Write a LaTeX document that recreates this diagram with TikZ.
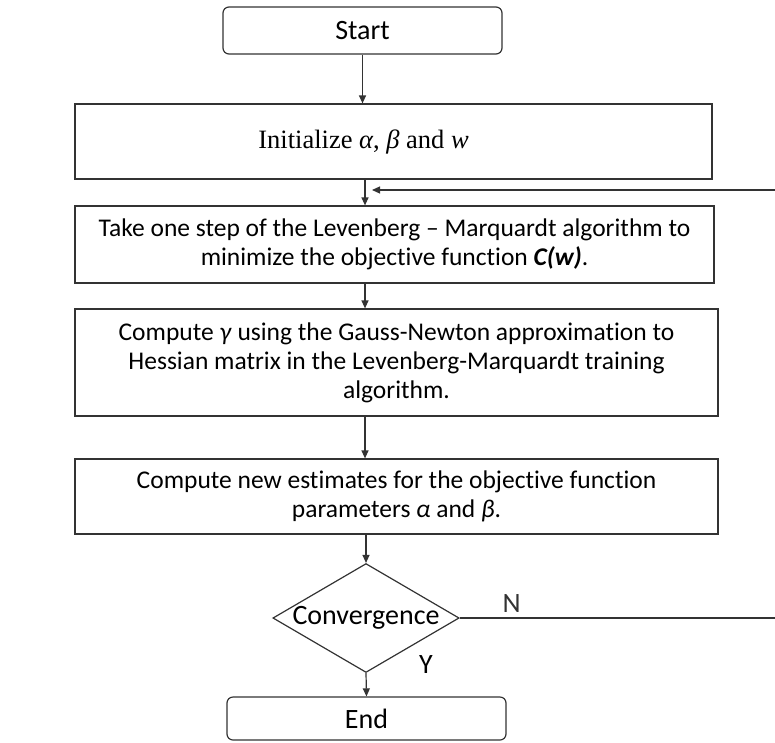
\documentclass[tikz,border=0pt]{standalone}
\usepackage{fontspec}
\setmainfont{Carlito}[Ligatures={NoCommon,TeX}]
\newfontfamily\serifface{Liberation Serif}
\usepackage{xcolor}
\definecolor{Ink}{HTML}{333333}
\usetikzlibrary{arrows.meta,positioning,shapes.geometric}

\begin{document}
\begin{tikzpicture}[
  x=1pt, y=-1pt,
  font=\fontsize{25.5}{29}\selectfont,
  tag/.style={font=\fontsize{28}{32}\selectfont},
  box/.style={draw=Ink, line width=1.2pt, align=center, inner sep=4pt},
  term/.style={box, tag, rounded corners=6pt, minimum width=279pt},
  decision/.style={diamond, aspect=1.71, draw=Ink, line width=1.2pt, tag,
                   inner sep=0pt, minimum width=183pt, minimum height=107pt},
  arr/.style={-{Triangle[length=8pt,width=7pt]}, line width=1.2pt, Ink},
  line/.style={line width=1.2pt, Ink}
]
  \useasboundingbox (0,0) rectangle (775,742);
  % main column of the flow
  \coordinate (axis) at (365,0);

  \node[term, minimum height=47pt] (start) at (362.5,30.5) {Start};
  \node[box, minimum width=637pt, minimum height=75pt,
        label={[xshift=-30pt, font=\serifface\fontsize{26.5}{30}\selectfont]center:
          Initialize \textit{α}, \textit{β} and \textit{w}}]
    (init) at (393.5,141.5) {};
  \node[box, minimum width=639pt, minimum height=77pt] (lm) at (394.5,244.5)
    {Take one step of the Levenberg -- Marquardt algorithm to\\
     minimize the objective function \textbf{\textit{C(w)}}.};
  \node[box, minimum width=643pt, minimum height=107pt] (gamma) at (396.5,362.5)
    {Compute \textit{γ} using the Gauss-Newton approximation to\\
     Hessian matrix in the Levenberg-Marquardt training\\
     algorithm.};
  \node[box, minimum width=643pt, minimum height=75pt] (update) at (396.5,496.5)
    {Compute new estimates for the objective function\\
     parameters \textit{α} and \textit{β}.};
  \node[decision] (conv) at (366,618) {Convergence};
  \node[term, minimum height=43pt] (end) at (366.5,718.5) {End};

  % loose ends of the loop back
  \coordinate (back) at (775,190);
  \coordinate (exit) at (775,618);

  \draw[arr] (start.south) -- (start.south |- init.north);
  \draw[arr] (init.south -| axis) -- (lm.north -| axis);
  \draw[arr] (back) -- ([xshift=7pt]axis |- back);
  \draw[arr] (lm.south -| axis) -- (gamma.north -| axis);
  \draw[arr] (gamma.south -| axis) -- (update.north -| axis);
  \draw[arr] (update.south -| conv) -- (conv.north);
  \draw[arr] (conv.south) -- (end.north);
  \draw[line] (conv.east) -- node[pos=0.165, above=2pt, tag] {N} (exit);
  \node[tag] (yes) at ([xshift=60pt,yshift=9pt]conv.south) {Y};
\end{tikzpicture}
\end{document}
